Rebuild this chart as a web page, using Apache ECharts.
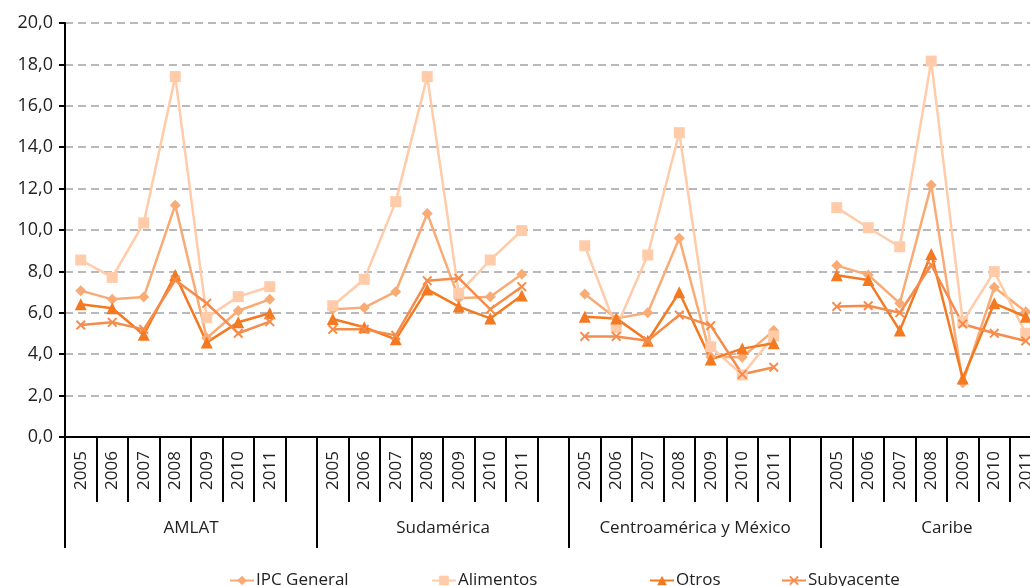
<!DOCTYPE html>
<html>
<head>
<meta charset="utf-8">
<script src="https://cdn.jsdelivr.net/npm/echarts@6/dist/echarts.min.js"></script>
<style>
  html, body { margin: 0; padding: 0; overflow: hidden; background: #fff; }
  #chart { width: 1100px; height: 586px; }
</style>
</head>
<body>
<div id="chart"></div>
<script>
/* inflation by region, 2005-2011 */

var years = ['2005', '2006', '2007', '2008', '2009', '2010', '2011'];
var groups = ['AMLAT', 'Sudamérica', 'Centroamérica y México', 'Caribe'];

// one value per year and region, region order as in groups
var ipcGeneral = [
    [7.07, 6.65, 6.76, 11.2, 4.78, 6.1, 6.65],
    [6.17, 6.25, 7.02, 10.8, 6.7, 6.78, 7.86],
    [6.91, 5.73, 6.0, 9.6, 3.88, 3.85, 5.14],
    [8.28, 7.83, 6.46, 12.17, 2.62, 7.23, 6.05]
];
var alimentos = [
    [8.55, 7.71, 10.34, 17.41, 5.77, 6.78, 7.26],
    [6.34, 7.62, 11.37, 17.41, 6.94, 8.55, 9.97],
    [9.24, 5.28, 8.79, 14.7, 4.36, 3.0, 4.88],
    [11.08, 10.11, 9.19, 18.16, 5.57, 7.99, 5.01]
];
var otros = [
    [6.41, 6.22, 4.94, 7.83, 4.57, 5.54, 5.98],
    [5.7, 5.3, 4.72, 7.13, 6.3, 5.73, 6.84],
    [5.81, 5.73, 4.65, 6.99, 3.75, 4.27, 4.53],
    [7.81, 7.58, 5.14, 8.84, 2.83, 6.46, 5.81]
];
var subyacente = [
    [5.41, 5.54, 5.2, 7.58, 6.46, 5.01, 5.57],
    [5.2, 5.2, 4.91, 7.55, 7.67, 6.17, 7.26],
    [4.86, 4.86, 4.65, 5.89, 5.38, 3.03, 3.37],
    [6.3, 6.34, 6.0, 8.31, 5.46, 5.01, 4.64]
];

// every region gets its 7 years plus an empty slot after it
var categories = [];
groups.forEach(function() {
    categories = categories.concat(years, ['']);
});
function flat(rows) {
    var out = [];
    rows.forEach(function(r) { out = out.concat(r, [null]); });
    return out;
}

var font = 'Open Sans';
var crossPath = 'path://M0,1.4L1.4,0L5,3.6L8.6,0L10,1.4L6.4,5L10,8.6L8.6,10L5,6.4L1.4,10L0,8.6L3.6,5Z';

function line(name, rows, color, symbol, size) {
    return {
        name: name,
        type: 'line',
        data: flat(rows),
        symbol: symbol,
        symbolSize: size,
        showAllSymbol: true,
        lineStyle: { color: color, width: 2.5 },
        itemStyle: { color: color },
        emphasis: { disabled: true },
        z: 3
    };
}

function legendAt(left, name) {
    return {
        left: left,
        top: 567,
        data: [name],
        itemWidth: 24,
        itemHeight: 12,
        itemGap: 0,
        textStyle: { fontFamily: font, fontSize: 17, color: '#222', padding: [0, 0, 0, -3] }
    };
}

var chart = echarts.init(document.getElementById('chart'));
chart.setOption({
    animation: false,
    grid: { left: 65, right: 27, top: 23, bottom: 149 },
    legend: [
        legendAt(224, 'IPC General'),
        legendAt(426, 'Alimentos'),
        legendAt(644, 'Otros'),
        legendAt(776, 'Subyacente')
    ],
    xAxis: [
        {
            type: 'category',
            data: categories,
            position: 'bottom',
            boundaryGap: true,
            axisLine: { show: true, lineStyle: { color: '#000', width: 2 } },
            axisTick: { show: true, interval: 0, length: 65, lineStyle: { color: '#000', width: 2 } },
            axisLabel: {
                interval: 0, rotate: 90, margin: 14,
                fontFamily: font, fontSize: 17, color: '#222'
            }
        },
        {
            type: 'category',
            data: groups,
            position: 'bottom',
            boundaryGap: true,
            axisLine: { show: true, lineStyle: { color: '#000', width: 0, opacity: 0 } },
            axisTick: { show: true, interval: 0, length: 111, lineStyle: { color: '#000', width: 2 } },
            axisLabel: {
                interval: 0, margin: 83,
                fontFamily: font, fontSize: 17, color: '#222'
            }
        }
    ],
    yAxis: {
        type: 'value',
        min: 0,
        max: 20,
        interval: 2,
        axisLine: { show: true, lineStyle: { color: '#000', width: 2 } },
        axisTick: { show: true, length: 6, lineStyle: { color: '#000', width: 2 } },
        axisLabel: {
            margin: 12, fontFamily: font, fontSize: 18, color: '#222',
            formatter: function(v) { return v.toFixed(1).replace('.', ','); }
        },
        splitLine: { lineStyle: { color: '#b9b9bd', width: 2, type: [8, 5] } }
    },
    series: [
        line('IPC General', ipcGeneral, '#f9ab76', 'diamond', 11),
        line('Alimentos', alimentos, '#ffcba8', 'rect', 11),
        line('Otros', otros, '#f47a22', 'triangle', 12),
        line('Subyacente', subyacente, '#f68c4c', crossPath, 10)
    ]
});
</script>
</body>
</html>
